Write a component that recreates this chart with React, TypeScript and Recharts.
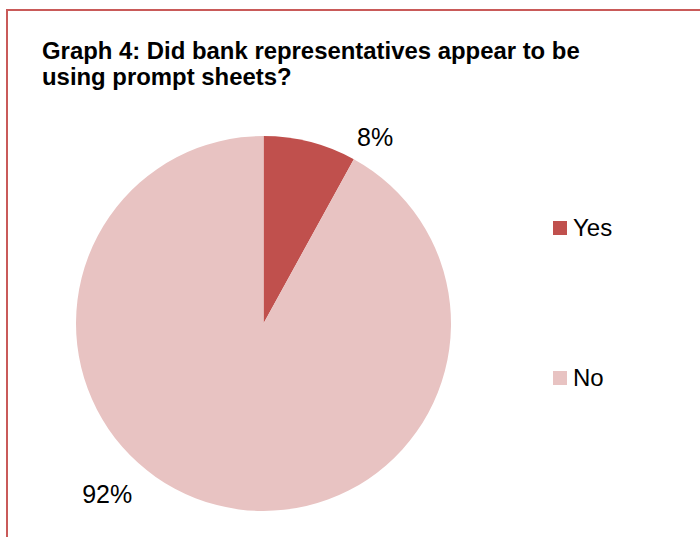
import { Cell, Legend, Pie, PieChart } from "recharts"


// chart values
const categories = ["Yes", "No"]
const shares = [8, 92]
const sliceColors = ["#c0504d", "#e8c3c2"]

const titleLines = [
	"Graph 4: Did bank representatives appear to be",
	"using prompt sheets?",
]


const data = categories.map((name, i) => ({ name, value: shares[i] }))

const FONT = "'Liberation Sans', Arial, sans-serif"

// where each label sits, as (clockwise degrees from 12 o'clock, radius factor)
const LABEL_SPOT: Record<string, [number, number]> = {
	Yes: [30.9, 1.16],
	No: [222.5, 1.234],
}


const renderLabel = (props: any) => {
	const { cx, cy, outerRadius, percent, name } = props
	const [deg, k] = LABEL_SPOT[name] ?? [props.midAngle, 1.2]
	const rad = (deg * Math.PI) / 180
	const x = cx + outerRadius * k * Math.sin(rad)
	const y = cy - outerRadius * k * Math.cos(rad)

	return (
		<text
			x={x}
			y={y}
			textAnchor="middle"
			dominantBaseline="central"
			fontFamily={FONT}
			fontSize={25}
			fill="#000"
		>
			{`${Math.round(percent * 100)}%`}
		</text>
	)
}


const LegendBox = () => (
	<div style={{ fontFamily: FONT, fontSize: 24, color: "#000" }}>
		{categories.map((name, i) => (
			<div
				key={name}
				style={{
					display: "flex",
					alignItems: "center",
					height: 26,
					marginBottom: i === 0 ? 124 : 0,
				}}
			>
				<span
					style={{
						display: "inline-block",
						width: 14,
						height: 14,
						background: sliceColors[i],
						marginRight: 6,
					}}
				/>
				<span>{name}</span>
			</div>
		))}
	</div>
)


export default function App() {
	return (
		<div
			style={{
				position: "absolute",
				left: 0,
				top: 0,
				width: 700,
				height: 537,
				overflow: "hidden",
				background: "#fff",
			}}
		>

			<div
				style={{
					position: "absolute",
					left: 6,
					top: 9,
					width: 740,
					height: 600,
					border: "2px solid #c95a59",
				}}
			/>

			<div
				style={{
					position: "absolute",
					left: 42,
					top: 38,
					fontFamily: FONT,
					fontWeight: "bold",
					fontSize: 23.9,
					lineHeight: "26px",
					color: "#000",
					whiteSpace: "nowrap",
				}}
			>
				{titleLines.map(line => (
					<div key={line}>{line}</div>
				))}
			</div>

			<div style={{ position: "absolute", left: 0, top: 0 }}>
				<PieChart
					width={700}
					height={537}
					margin={{ top: 0, right: 0, bottom: 0, left: 0 }}
				>

					<Pie
						data={data}
						dataKey="value"
						nameKey="name"
						cx={263.5}
						cy={323.5}
						outerRadius={187.5}
						startAngle={90}
						endAngle={-270}
						stroke="none"
						label={renderLabel}
						labelLine={false}
						isAnimationActive={false}
					>
						{data.map((d, i) => (
							<Cell key={d.name} fill={sliceColors[i]} />
						))}
					</Pie>

					<Legend
						layout="vertical"
						content={<LegendBox />}
						wrapperStyle={{ position: "absolute", left: 553, top: 215, width: 100 }}
					/>

				</PieChart>
			</div>

		</div>
	)
}
